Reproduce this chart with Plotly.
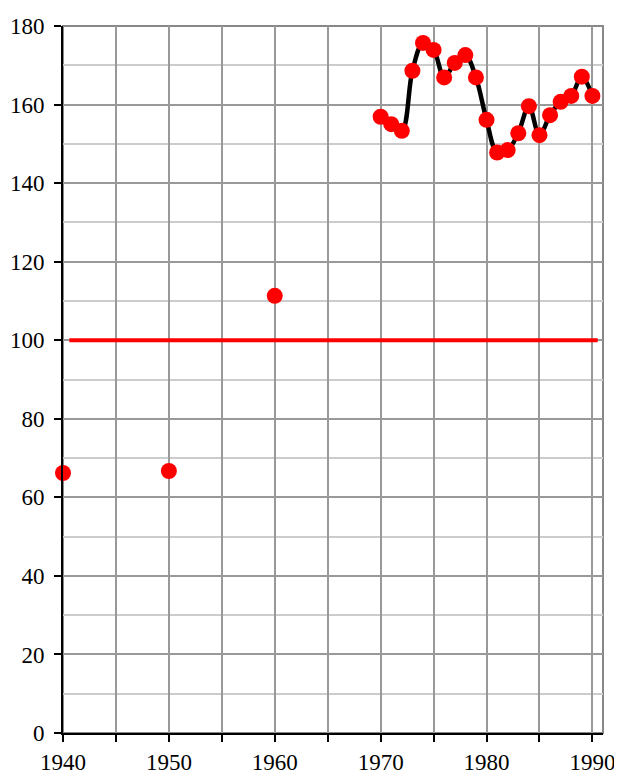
import plotly.graph_objects as go

# anos isolados e série contínua 1970-1990
anos_isolados = [1940, 1950, 1960]
valores_isolados = [66.2, 66.7, 111.3]

anos_serie = list(range(1970, 1991))
valores_serie = [
    156.9, 155.0, 153.3, 168.6, 175.7, 173.9, 166.9, 170.6, 172.6, 166.9,
    156.1, 147.8, 148.4, 152.7, 159.6, 152.2, 157.3, 160.7, 162.2, 167.1, 162.2,
]

referencia_x = [1940.6, 1990.5]
referencia_y = [100, 100]

anos_ticks = list(range(1940, 1991, 5))
rotulos_ticks = [str(a) if a % 10 == 0 else "" for a in anos_ticks]

fig = go.Figure()

fig.add_trace(
    go.Scatter(
        x=referencia_x,
        y=referencia_y,
        mode="lines",
        line={"color": "#ff0000", "width": 4},
        showlegend=False,
    )
)
fig.add_trace(
    go.Scatter(
        x=anos_serie,
        y=valores_serie,
        mode="lines",
        line={"color": "black", "width": 4.5, "shape": "spline", "smoothing": 1.0},
        showlegend=False,
    )
)
fig.add_trace(
    go.Scatter(
        x=anos_isolados + anos_serie,
        y=valores_isolados + valores_serie,
        mode="markers",
        marker={"color": "#ff0000", "size": 16},
        showlegend=False,
        cliponaxis=False,
    )
)

# borda cinza do quadro
fig.add_shape(
    type="rect", xref="paper", yref="paper", x0=0, x1=1, y0=0, y1=1,
    line={"color": "#888888", "width": 2}, layer="below",
)

fonte = {"family": "Liberation Serif", "size": 23, "color": "black"}

# a página tem margem de 8px no body; compensar no tamanho da figura
fig.update_layout(
    width=614,
    height=768,
    margin={"l": 55, "r": 19, "t": 18, "b": 43, "autoexpand": False},
    plot_bgcolor="white",
    paper_bgcolor="white",
    font=fonte,
)
fig.update_xaxes(
    range=[1940, 1991],
    tickvals=anos_ticks,
    ticktext=rotulos_ticks,
    tickfont=fonte,
    ticks="outside",
    ticklen=7,
    tickwidth=2,
    tickcolor="black",
    showline=True,
    linecolor="black",
    linewidth=2,
    showgrid=True,
    gridcolor="#999999",
    gridwidth=1.5,
    zeroline=False,
    automargin=False,
)
fig.update_yaxes(
    range=[0, 180],
    dtick=20,
    tickfont=fonte,
    ticks="outside",
    ticklen=7,
    tickwidth=2,
    tickcolor="black",
    ticklabelstandoff=5,
    showline=True,
    linecolor="black",
    linewidth=2,
    showgrid=True,
    gridcolor="#999999",
    gridwidth=1.5,
    minor={"dtick": 10, "showgrid": True, "gridcolor": "#cccccc", "gridwidth": 1.5},
    zeroline=False,
    automargin=False,
)

fig.write_html("out.html")
